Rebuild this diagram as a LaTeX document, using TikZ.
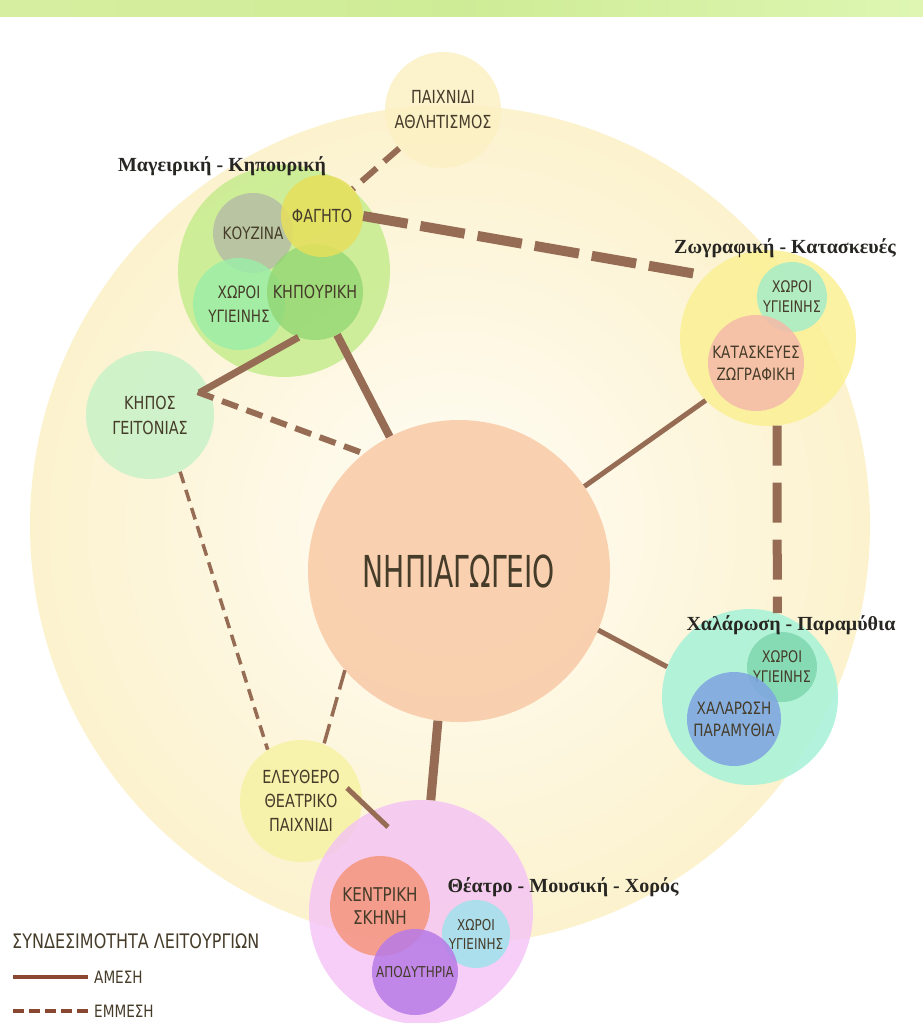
\documentclass[tikz,border=0pt]{standalone}
\usepackage{fontspec}
\setmainfont{Liberation Serif}
\newfontfamily\capsfont[FakeStretch=0.8]{DejaVu Sans}
\newfontfamily\bigcapsfont[FakeStretch=0.64]{DejaVu Sans}

\definecolor{linkcol}{RGB}{150,108,84}
\definecolor{legcol}{RGB}{138,72,50}
\definecolor{labeltext}{RGB}{70,60,42}
\definecolor{headtext}{RGB}{40,38,34}
\definecolor{bgyellow}{RGB}{252,242,206}
\definecolor{playcol}{RGB}{252,240,196}
\definecolor{cookcol}{RGB}{198,236,142}
\definecolor{kitchcol}{RGB}{182,190,164}
\definecolor{foodcol}{RGB}{230,224,92}
\definecolor{wcgreen}{RGB}{156,238,168}
\definecolor{gardcol}{RGB}{145,214,114}
\definecolor{kiposcol}{RGB}{200,242,200}
\definecolor{schoolcol}{RGB}{249,202,166}
\definecolor{paintcol}{RGB}{251,240,148}
\definecolor{wcmint}{RGB}{166,236,200}
\definecolor{craftcol}{RGB}{246,186,169}
\definecolor{restcol}{RGB}{166,242,216}
\definecolor{wcteal}{RGB}{127,216,176}
\definecolor{storycol}{RGB}{127,164,226}
\definecolor{freecol}{RGB}{246,242,164}
\definecolor{theatcol}{RGB}{244,194,246}
\definecolor{stagecol}{RGB}{245,149,124}
\definecolor{wccyan}{RGB}{160,226,236}
\definecolor{dresscol}{RGB}{183,122,230}

\begin{document}
\begin{tikzpicture}[x=1pt,y=-1pt,
  spot/.style={circle,inner sep=0pt,minimum size=#1pt,align=center,
    text=labeltext,fill opacity=0.85,text opacity=1},
  lbl/.style 2 args={font=\capsfont\fontsize{#1}{#2}\selectfont},
  head/.style={anchor=base,text=headtext,font=\bfseries\fontsize{20}{24}\selectfont},
  conn/.style={draw=linkcol,line width=#1pt}]

\useasboundingbox (0,0) rectangle (923,1023);
\fill[white] (0,0) rectangle (923,1023);
% green strip on top
\shade[left color={rgb,255:red,214;green,238;blue,160},right color={rgb,255:red,222;green,246;blue,178},
  middle color={rgb,255:red,206;green,236;blue,150}] (0,0) rectangle (923,16);

% large background circle
\shade[inner color={rgb,255:red,255;green,253;blue,246},outer color=bgyellow] (450,525) circle (420);

% play / sports
\node[spot=116,fill=playcol,lbl={18}{25}] (paixnidi) at (443,110) {ΠΑΙΧΝΙΔΙ\\ΑΘΛΗΤΙΣΜΟΣ};

% cooking - gardening group
\node[spot=212,fill=cookcol] (cook) at (284,271) {};
\node[spot=80,fill=kitchcol,lbl={17}{23}] (kouzina) at (253,233) {ΚΟΥΖΙΝΑ};
\node[spot=92,fill=wcgreen,lbl={17}{24}] (wc1) at (239,304) {ΧΩΡΟΙ\\ΥΓΙΕΙΝΗΣ};
\node[spot=96,fill=gardcol,fill opacity=0.75,lbl={18}{24}] (kipouriki) at (315,292) {ΚΗΠΟΥΡΙΚΗ};
\node[spot=82,fill=foodcol,lbl={18}{24}] (fagito) at (322,216) {ΦΑΓΗΤΟ};

% neighbourhood garden
\node[spot=128,fill=kiposcol,lbl={18}{25}] (kipos) at (150,415) {ΚΗΠΟΣ\\ΓΕΙΤΟΝΙΑΣ};

% kindergarten
\node[spot=302,fill=schoolcol,font=\bigcapsfont\fontsize{44}{50}\selectfont] (nipi) at (459,571) {ΝΗΠΙΑΓΩΓΕΙΟ};

% painting - crafts group
\node[spot=176,fill=paintcol] (zog) at (768,338) {};
\node[spot=70,fill=wcmint,lbl={16}{20}] (wc2) at (792,297) {ΧΩΡΟΙ\\ΥΓΙΕΙΝΗΣ};
\node[spot=96,fill=craftcol,lbl={17}{22}] (kataskeves) at (756,363) {ΚΑΤΑΣΚΕΥΕΣ\\ΖΩΓΡΑΦΙΚΗ};

% rest - fairy tales group
\node[spot=176,fill=restcol] (xal) at (750,697) {};
\node[spot=70,fill=wcteal,lbl={16}{20}] (wc3) at (782,667) {ΧΩΡΟΙ\\ΥΓΙΕΙΝΗΣ};
\node[spot=94,fill=storycol,lbl={17}{22}] (xalarosi) at (734,719) {ΧΑΛΑΡΩΣΗ\\ΠΑΡΑΜΥΘΙΑ};

% free play
\node[spot=122,fill=freecol,lbl={18}{24}] (eleft) at (301,801) {ΕΛΕΥΘΕΡΟ\\ΘΕΑΤΡΙΚΟ\\ΠΑΙΧΝΙΔΙ};

% theatre - music - dance group
\node[spot=224,fill=theatcol,fill opacity=0.8] (theatro) at (421,912) {};
\node[spot=100,fill=stagecol,lbl={19}{23}] (skini) at (380,906) {ΚΕΝΤΡΙΚΗ\\ΣΚΗΝΗ};
\node[spot=68,fill=wccyan,lbl={15}{19}] (wc4) at (476,934) {ΧΩΡΟΙ\\ΥΓΙΕΙΝΗΣ};
\node[spot=86,fill=dresscol,lbl={15}{19}] (apodyt) at (415,972) {ΑΠΟΔΥΤΗΡΙΑ};

% connections
\draw[conn=6,dash pattern=on 20pt off 10pt] (paixnidi) -- (fagito);
\draw[conn=10,dash pattern=on 45pt off 13pt] (fagito.east) -- (zog.135);
\draw[conn=8] (kipouriki) -- (nipi);
\draw[conn=7,shorten >=-10pt] (kipouriki.250) -- (kipos.25);
\draw[conn=6,dash pattern=on 17pt off 9pt,shorten <=-15pt] (kipos.16) -- (nipi.129);
\draw[conn=5] (nipi.34) -- (zog.225);
\draw[conn=9,dash pattern=on 40pt off 17pt] (zog.276) -- (xal.72);
\draw[conn=5] (nipi.337) -- (xal.160);
\draw[conn=9] (nipi.262) -- (theatro.85);
\draw[conn=3.5,dash pattern=on 20pt off 8pt] (nipi.221) -- (eleft.68);
\draw[conn=3.5,dash pattern=on 12pt off 7pt] (kipos.298) -- (eleft.123);
\coordinate (e1) at (347,788);
\coordinate (e2) at (388,827);
\draw[conn=5] (e1) -- (e2);

% group titles
\node[head] (t1) at (222,171) {Μαγειρική - Κηπουρική};
\node[head] (t2) at (785,253) {Ζωγραφική - Κατασκευές};
\node[head] (t3) at (791,630) {Χαλάρωση - Παραμύθια};
\node[head] (t4) at (563,892) {Θέατρο - Μουσική - Χορός};

% legend
\node[anchor=base west,text=labeltext,lbl={20}{24},inner sep=0pt] (legtitle) at (12,948) {ΣΥΝΔΕΣΙΜΟΤΗΤΑ ΛΕΙΤΟΥΡΓΙΩΝ};
\node[anchor=west,text=labeltext,lbl={17}{20},inner sep=6pt] (amesi) at (88,977) {ΑΜΕΣΗ};
\node[anchor=west,text=labeltext,lbl={17}{20},inner sep=6pt] (emmesi) at (88,1011) {ΕΜΜΕΣΗ};
\coordinate (l1) at (13,977);
\coordinate (l2) at (13,1011);
\draw[legcol,line width=3.5pt] (l1) -- (amesi.west);
\draw[legcol,line width=3.5pt,dash pattern=on 11pt off 5pt] (l2) -- (emmesi.west);
\end{tikzpicture}
\end{document}
